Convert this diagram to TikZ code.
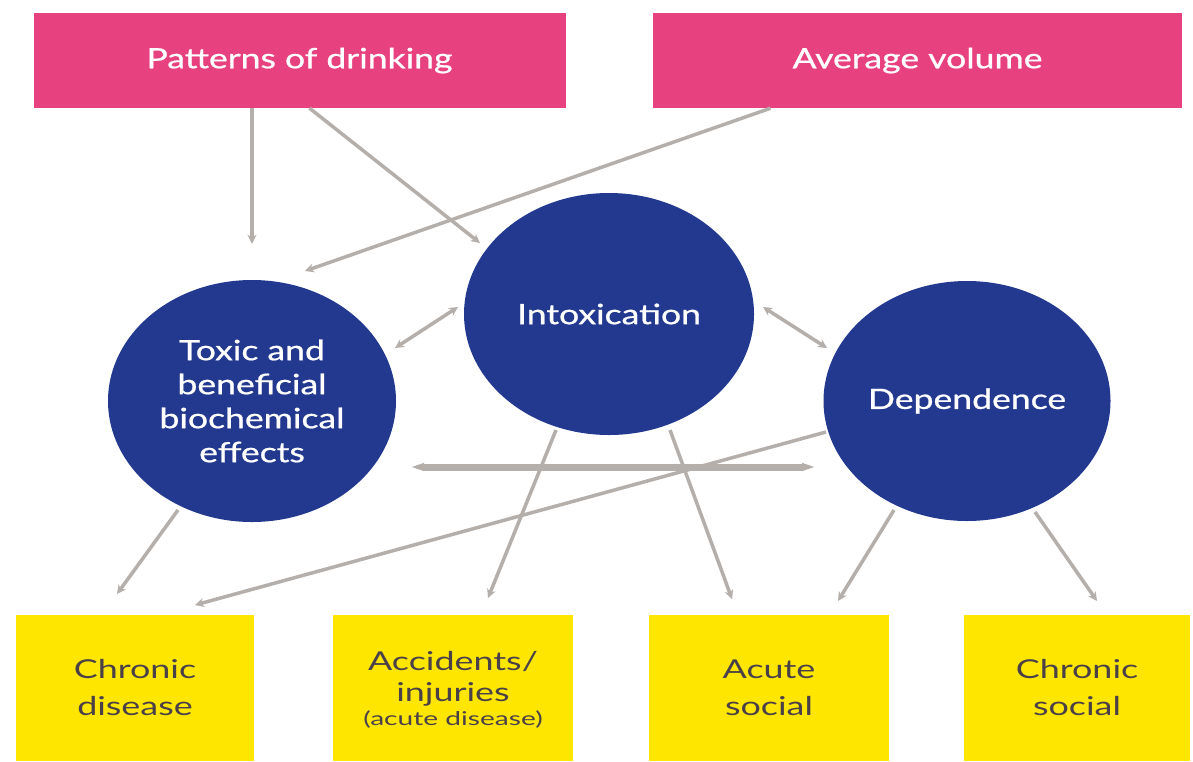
\documentclass[tikz,border=0pt]{standalone}
\usepackage{fontspec}
\usepackage{graphicx}
\setmainfont{Lato}[BoldFont=Lato, BoldFeatures={FakeBold=0.7}]
\usetikzlibrary{shapes.geometric,arrows.meta}
\definecolor{pinkc}{HTML}{E8417F}
\definecolor{bluec}{HTML}{22398F}
\definecolor{yellowc}{HTML}{FFE600}
\definecolor{grayc}{HTML}{B5AFAC}
\definecolor{ytext}{HTML}{4A4048}
\newcommand\sx[1]{\scalebox{1.27}[1]{#1}}
\newcommand\sy[1]{\scalebox{1.38}[1]{#1}}
\tikzset{
  pinkbox/.style={rectangle, fill=pinkc, text=white, inner sep=0pt, font=\fontsize{28}{34}\selectfont\bfseries},
  bluecirc/.style={ellipse, fill=bluec, text=white, inner sep=0pt, align=center, font=\fontsize{28}{34}\selectfont\bfseries},
  yellowbox/.style={rectangle, fill=yellowc, text=ytext, inner sep=0pt, align=center, font=\fontsize{26}{37}\selectfont},
  arr/.style={draw=grayc, line width=3.5pt, -{Stealth[length=9pt,width=9pt]}},
  darr/.style={draw=grayc, line width=3.5pt, {Stealth[length=9pt,width=9pt]}-{Stealth[length=9pt,width=9pt]}},
  thickarr/.style={draw=grayc, line width=7pt, {Triangle[length=14pt,width=7pt]}-{Triangle[length=14pt,width=7pt]}}
}
\begin{document}
\begin{tikzpicture}[x=1pt,y=-1pt]
\useasboundingbox (0,0) rectangle (1193,761);
\fill[white] (0,0) rectangle (1193,761);
% top boxes
\node[pinkbox, minimum width=532pt, minimum height=95pt] (pat) at (299.5,60.5) {\sx{Patterns of drinking}};
\node[pinkbox, minimum width=529pt, minimum height=95pt] (avg) at (917.5,60.5) {\sx{Average volume}};
% circles
\node[bluecirc, minimum width=288pt, minimum height=242pt] (tox) at (252,401) {\sx{Toxic and}\\\sx{beneficial}\\\sx{biochemical}\\\sx{effects}};
\node[bluecirc, minimum width=290pt, minimum height=242pt] (intox) at (609,314) {\sx{Intoxication}};
\node[bluecirc, minimum width=287pt, minimum height=240pt] (dep) at (967,401) {\sx{Dependence}};
% bottom boxes
\node[yellowbox, minimum width=238pt, minimum height=146pt] (cd) at (135,688) {\sy{Chronic}\\\sy{disease}};
\node[yellowbox, minimum width=240pt, minimum height=146pt] (acc) at (453,688) {};
\node[font=\fontsize{26}{31}\selectfont, text=ytext, align=center, inner sep=0pt] (acctext) at (453,690) {\sy{Accidents/}\\\sy{injuries}\\[-7pt]{\fontsize{19}{22}\selectfont\scalebox{1.48}[1]{(acute disease)}}};
\node[yellowbox, minimum width=240pt, minimum height=146pt] (as) at (769,688) {\sy{Acute}\\\sy{social}};
\node[yellowbox, minimum width=226pt, minimum height=146pt] (cs) at (1077,688) {\sy{Chronic}\\\sy{social}};
% connectors
\draw[arr] (pat.south -| tox.center) -- ([shift={(0,-36)}]tox.north);
\draw[arr] ([shift={(10,0)}]pat.south) -- ([shift={(-129,-71)}]intox.center);
\draw[arr] ([shift={(-147,0)}]avg.south) -- ([shift={(53,-130)}]tox.center);
\draw[darr] ([shift={(-151,-7)}]intox.center) -- ([shift={(143,-53)}]tox.center);
\draw[darr] ([shift={(154,-7)}]intox.center) -- ([shift={(-140,-53)}]dep.center);
\draw[thickarr] ([shift={(158,66)}]tox.center) -- ([shift={(-151,66)}]dep.center);
\draw[arr] ([shift={(-141,31)}]dep.center) -- ([shift={(60,-83)}]cd.center);
\draw[arr] ([shift={(-74,109)}]tox.center) -- ([shift={(-18,-94)}]cd.center);
\draw[arr] ([shift={(-53,116)}]intox.center) -- ([shift={(35,-90)}]acc.center);
\draw[arr] ([shift={(61,116)}]intox.center) -- ([shift={(-37,-89)}]as.center);
\draw[arr] ([shift={(-73,109)}]dep.center) -- ([shift={(69,-87)}]as.center);
\draw[arr] ([shift={(68,111)}]dep.center) -- ([shift={(20,-87)}]cs.center);
\end{tikzpicture}
\end{document}
